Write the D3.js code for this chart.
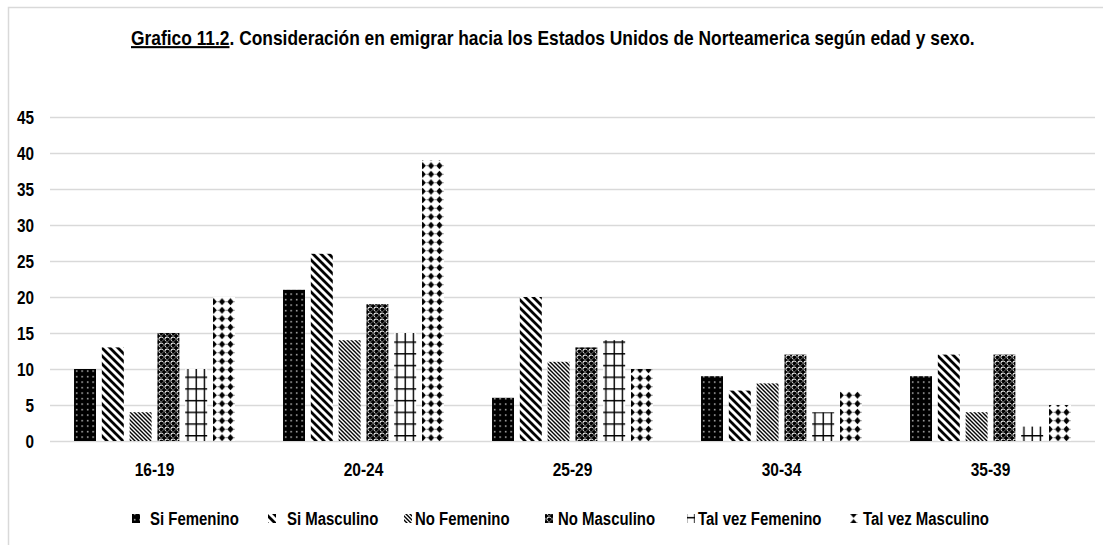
<!DOCTYPE html>
<html lang="es">
<head>
<meta charset="UTF-8">
<title>Grafico 11.2</title>
<script src="https://cdn.jsdelivr.net/npm/d3@7"></script>
<style>
    body { margin: 0; background: #fff; }
    svg { display: block; }
    text { font-family: "Liberation Sans Narrow", "Arial Narrow", "Liberation Sans", sans-serif; font-weight: bold; fill: #000; }
</style>
</head>
<body>
<svg id="chart" width="1103" height="545"></svg>
<script>
// data
var categories = ["16-19", "20-24", "25-29", "30-34", "35-39"];
var seriesNames = ["Si Femenino", "Si Masculino", "No Femenino", "No Masculino", "Tal vez Femenino", "Tal vez Masculino"];
var siFemenino      = [10, 21, 6, 9, 9];
var siMasculino     = [13, 26, 20, 7, 12];
var noFemenino      = [4, 14, 11, 8, 4];
var noMasculino     = [15, 19, 13, 12, 12];
var talVezFemenino  = [10, 15, 14, 4, 2];
var talVezMasculino = [20, 39, 10, 7, 5];
var yTicks = [0, 5, 10, 15, 20, 25, 30, 35, 40, 45];

var seriesValues = [siFemenino, siMasculino, noFemenino, noMasculino, talVezFemenino, talVezMasculino];
var patternIds = ["pDots", "pWideDiag", "pNarrowDiag", "pSphere", "pGrid", "pDiamond"];

var svg = d3.select("#chart");

// squeeze a text horizontally, like the condensed font in the original
function squeeze(sel, k) {
    sel.each(function() {
        var w = this.getComputedTextLength();
        d3.select(this).attr("textLength", w * k).attr("lengthAdjust", "spacingAndGlyphs");
    });
}

// chart frame
svg.append("path")
    .attr("d", "M8.5,545 L8.5,7.5 L1103,7.5")
    .attr("fill", "none")
    .attr("stroke", "#d9d9d9")
    .attr("stroke-width", 1.5);

// patterns
var defs = svg.append("defs");

var p = defs.append("pattern").attr("id", "pDots").attr("patternUnits", "userSpaceOnUse")
    .attr("width", 5.5).attr("height", 5.5);
p.append("rect").attr("width", 5.5).attr("height", 5.5).attr("fill", "#000");
p.append("rect").attr("x", 2).attr("y", 2).attr("width", 1.3).attr("height", 1.3).attr("fill", "#fff");

p = defs.append("pattern").attr("id", "pWideDiag").attr("patternUnits", "userSpaceOnUse")
    .attr("width", 8).attr("height", 8);
p.append("rect").attr("width", 8).attr("height", 8).attr("fill", "#fff");
p.append("path").attr("d", "M-2,-2 L10,10 M-2,6 L2,10 M6,-2 L10,2")
    .attr("stroke", "#000").attr("stroke-width", 2.8);

p = defs.append("pattern").attr("id", "pNarrowDiag").attr("patternUnits", "userSpaceOnUse")
    .attr("width", 4).attr("height", 4);
p.append("rect").attr("width", 4).attr("height", 4).attr("fill", "#fff");
p.append("path").attr("d", "M-1,-1 L5,5 M-1,3 L1,5 M3,-1 L5,1")
    .attr("stroke", "#000").attr("stroke-width", 1.4);

p = defs.append("pattern").attr("id", "pSphere").attr("patternUnits", "userSpaceOnUse")
    .attr("width", 6).attr("height", 6);
p.append("rect").attr("width", 6).attr("height", 6).attr("fill", "#000");
p.append("circle").attr("cx", 3).attr("cy", 3).attr("r", 2.5).attr("fill", "#fff");
p.append("circle").attr("cx", 3.3).attr("cy", 3.3).attr("r", 1.9).attr("fill", "#000");

p = defs.append("pattern").attr("id", "pGrid").attr("patternUnits", "userSpaceOnUse")
    .attr("x", 2).attr("y", 435).attr("width", 8.3).attr("height", 11.7);
p.append("rect").attr("width", 8.3).attr("height", 11.7).attr("fill", "#fff");
p.append("path").attr("d", "M0,0.75 L8.3,0.75 M4,0 L4,11.7")
    .attr("stroke", "#000").attr("stroke-width", 1.4);

p = defs.append("pattern").attr("id", "pDiamond").attr("patternUnits", "userSpaceOnUse")
    .attr("x", 1).attr("y", 0).attr("width", 8.4).attr("height", 8.5);
p.append("rect").attr("width", 8.4).attr("height", 8.5).attr("fill", "#fff");
p.append("path").attr("d", "M0,4.25 L8.4,4.25").attr("stroke", "#555").attr("stroke-width", 0.8)
    .attr("stroke-dasharray", "1,1");
p.append("path").attr("d", "M4.2,0.6 L7.3,4.25 L4.2,7.9 L1.1,4.25 Z").attr("fill", "#000");

// scales
var x0 = d3.scaleBand().domain(categories).range([50, 1095])
    .paddingInner(0.23).paddingOuter(0.115);
var x1 = d3.scaleBand().domain(seriesNames).range([0, x0.bandwidth()])
    .paddingInner(0.21).paddingOuter(0);
var y = d3.scaleLinear().domain([0, 45]).range([441, 117]);

// gridlines
svg.append("g").selectAll("line")
    .data(yTicks)
    .join("line")
    .attr("x1", 50).attr("x2", 1095)
    .attr("y1", function(d) { return Math.round(y(d)) + 0.5; })
    .attr("y2", function(d) { return Math.round(y(d)) + 0.5; })
    .attr("stroke", "#d9d9d9")
    .attr("stroke-width", 1.5);

// y axis labels
var yAxis = svg.append("g")
    .attr("transform", "translate(34,0)")
    .call(d3.axisLeft(y).tickValues(yTicks).tickSize(0).tickPadding(0));
yAxis.select(".domain").remove();
yAxis.selectAll("text").attr("font-size", 18).attr("font-family", null).attr("dy", "0.35em")
    .call(squeeze, 0.85);

// bars
var groups = svg.append("g").selectAll("g")
    .data(categories)
    .join("g")
    .attr("transform", function(d) { return "translate(" + x0(d) + ",0)"; });

groups.selectAll("rect")
    .data(function(d, i) {
        return seriesNames.map(function(s, j) { return { key: s, value: seriesValues[j][i], pat: patternIds[j] }; });
    })
    .join("rect")
    .attr("x", function(d) { return x1(d.key); })
    .attr("y", function(d) { return y(d.value); })
    .attr("width", x1.bandwidth())
    .attr("height", function(d) { return y(0) - y(d.value); })
    .attr("fill", function(d) { return "url(#" + d.pat + ")"; });

// x axis labels
var xAxis = svg.append("g")
    .attr("transform", "translate(0,463)")
    .call(d3.axisBottom(x0).tickSize(0).tickPadding(0));
xAxis.select(".domain").remove();
xAxis.selectAll("text").attr("font-size", 18).attr("font-family", null).attr("dy", "0.71em")
    .call(squeeze, 0.86);

// title, scaled to span x = 131..975 like the original
var titleG = svg.append("g");
var title = titleG.append("text")
    .attr("x", 0).attr("y", 0)
    .attr("font-size", 21);
title.append("tspan").attr("text-decoration", "underline").text("Grafico 11.2");
title.append("tspan").text(". Consideración en emigrar hacia los Estados Unidos de Norteamerica según edad y sexo.");
var tw = title.node().getComputedTextLength();
titleG.attr("transform", "translate(131,45) scale(" + (844 / tw) + ",1)");

// legend
var legendMarkX = [132, 268, 404, 545, 687, 850];
var legendTextX = [150, 287, 415, 558, 698, 863];
var legend = svg.append("g").selectAll("g")
    .data(seriesNames)
    .join("g");
legend.append("rect")
    .attr("x", function(d, i) { return legendMarkX[i]; })
    .attr("y", 514)
    .attr("width", 8).attr("height", 9)
    .attr("fill", function(d, i) { return "url(#" + patternIds[i] + ")"; });
legend.append("text")
    .attr("x", function(d, i) { return legendTextX[i]; })
    .attr("y", 525)
    .attr("font-size", 18)
    .text(function(d) { return d; })
    .call(squeeze, 0.83);
</script>
</body>
</html>
